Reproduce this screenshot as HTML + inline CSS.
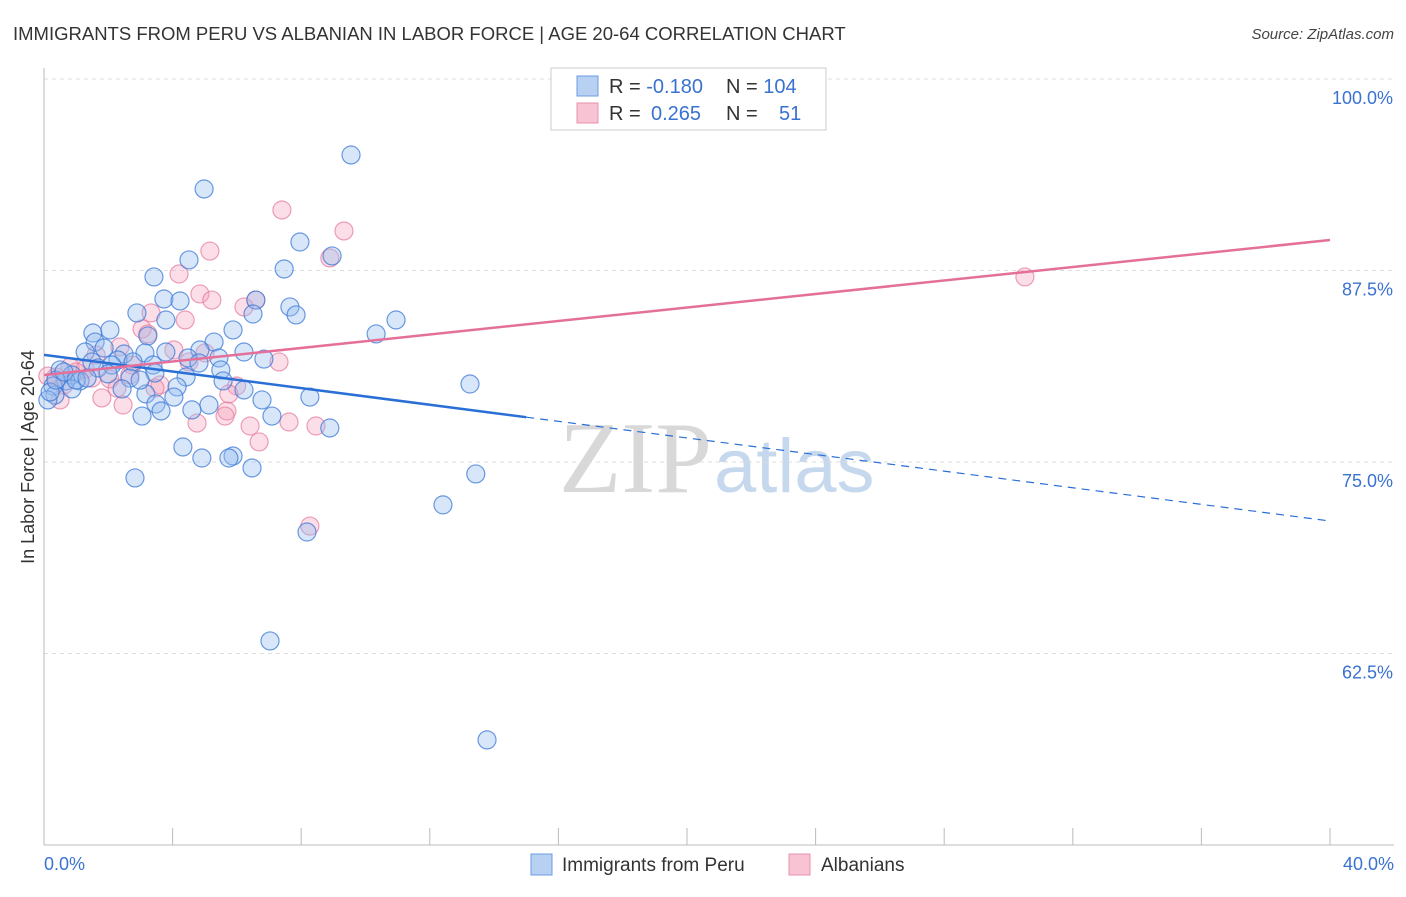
<!DOCTYPE html>
<html><head><meta charset="utf-8"><style>
body{margin:0;background:#fff;font-family:"Liberation Sans",sans-serif}
</style></head><body>
<svg width="1406" height="892" xmlns="http://www.w3.org/2000/svg" id="chart" font-family="Liberation Sans, sans-serif">
<text x="13" y="40" font-size="18.5" fill="#333">IMMIGRANTS FROM PERU VS ALBANIAN IN LABOR FORCE | AGE 20-64 CORRELATION CHART</text>
<text x="1394" y="39" font-size="15" fill="#444" font-style="italic" text-anchor="end">Source: ZipAtlas.com</text>
<text x="712" y="492" font-size="102" fill="#d8d8d8" text-anchor="end" font-family="Liberation Serif, serif">ZIP</text>
<text x="714" y="492" font-size="76" fill="#c6d8ee">atlas</text>
<g id="grid"></g><g id="axes"></g><g id="pts"></g><g id="lines"></g>
<text transform="translate(34,457) rotate(-90)" font-size="18" fill="#333" text-anchor="middle">In Labor Force | Age 20-64</text>
<g>
<rect x="551" y="68" width="275" height="62" fill="#fff" stroke="#ccc"/>
<rect x="577" y="76" width="21" height="20" fill="#b8d0f2" stroke="#6a9be0"/>
<rect x="577" y="103" width="21" height="20" fill="#f8c4d3" stroke="#e891ab"/>
<text x="609" y="93" font-size="20" fill="#333">R = <tspan fill="#3a72d0">-0.180</tspan><tspan x="726">N = </tspan><tspan fill="#3a72d0">104</tspan></text>
<text x="609" y="120" font-size="20" fill="#333">R = <tspan x="651" fill="#3a72d0">0.265</tspan><tspan x="726">N = </tspan><tspan x="779" fill="#3a72d0">51</tspan></text>
</g>
<g>
<rect x="531" y="854" width="21" height="21" fill="#b8d0f2" stroke="#6a9be0"/>
<text x="562" y="871" font-size="19" fill="#333">Immigrants from Peru</text>
<rect x="789" y="854" width="21" height="21" fill="#f8c4d3" stroke="#e891ab"/>
<text x="821" y="871" font-size="19" fill="#333">Albanians</text>
</g>
</svg>
<script>
const blueX=[9.55,4.98,7.96,8.96,4.51,7.47,3.42,3.73,4.23,6.59,7.65,2.89,6.50,7.84,3.79,10.95,1.52,2.05,5.88,10.33,3.23,1.59,5.29,1.87,6.22,1.28,2.49,3.14,3.79,4.85,2.30,1.49,4.48,5.44,6.84,2.77,3.39,4.82,0.50,0.87,1.12,0.68,2.67,3.45,4.42,5.50,5.57,13.25,0.28,0.34,0.87,2.43,3.17,4.14,6.22,4.04,3.48,5.13,6.78,8.27,3.05,3.64,4.60,7.09,8.89,4.32,4.91,5.88,5.75,6.47,13.43,2.83,12.41,8.18,7.03,13.78,0.12,0.19,0.37,0.62,1.68,2.11,1.99,1.0,1.34,2.99];
const blueY=[95.04,92.82,89.36,88.45,88.19,87.60,87.08,85.64,85.51,85.57,85.12,84.73,84.66,84.60,84.27,84.27,83.42,83.62,83.62,83.36,83.23,82.83,82.83,82.44,82.18,82.18,82.05,82.12,82.18,82.31,81.66,81.53,81.79,81.79,81.72,81.53,81.33,81.46,81.01,80.68,80.29,80.29,80.48,80.81,80.55,81.01,80.29,80.09,79.96,79.37,79.77,79.77,79.44,79.90,79.70,79.24,78.79,78.72,79.05,79.24,78.00,78.33,78.40,78.00,77.22,75.98,75.26,75.39,75.26,74.61,74.22,73.96,72.20,70.43,63.32,56.86,79.05,79.57,80.35,80.88,81.14,81.33,80.75,80.35,80.48,80.35];
const pinkX=[7.40,9.33,5.16,8.89,4.20,30.51,4.85,5.22,6.59,6.22,3.33,4.39,3.05,3.23,2.36,4.04,5.01,1.62,7.31,2.74,0.81,1.28,0.37,2.05,2.67,3.61,5.99,2.27,1.80,0.50,2.46,5.69,5.63,4.76,7.62,8.46,6.41,6.69,8.27,0.12,0.62,1.00,1.49,3.45,4.51,5.75];
const pinkY=[91.45,90.08,88.77,88.32,87.27,87.08,85.97,85.57,85.57,85.12,84.73,84.27,83.68,83.36,82.51,82.31,82.12,81.99,81.53,81.33,81.20,81.07,80.55,80.42,80.68,80.03,79.96,79.83,79.18,79.05,78.72,78.33,78.00,77.54,77.61,77.35,77.35,76.31,70.82,80.61,80.03,80.88,80.48,79.83,81.53,79.44];
const blueTrend=[81.99,71.15]; const blueSolidEnd=15.0;
const pinkTrend=[80.68,89.49];
const yTicks=[100,87.5,75,62.5];
const yTickLabels=["100.0%","87.5%","75.0%","62.5%"];
const xTickCount=11;
const NS="http://www.w3.org/2000/svg";
const sx=v=>44+v/40*1286, sy=v=>79+(100-v)/12.5*191.5;
function mk(t,a,p){const e=document.createElementNS(NS,t);for(const k in a)e.setAttribute(k,a[k]);p.appendChild(e);return e;}
const grid=document.getElementById('grid'),axes=document.getElementById('axes'),pts=document.getElementById('pts'),lines=document.getElementById('lines');
yTicks.forEach((v,i)=>{
 const l=mk('line',{x1:44,x2:1394,y1:sy(v),y2:sy(v),stroke:'#ddd','stroke-dasharray':'4,4'},grid);
 
 
 const t=mk('text',{x:1393,y:sy(v)+25,'font-size':18,fill:'#3a72d0','text-anchor':'end'},axes);
 t.textContent=yTickLabels[i];
 
 
});
let a=mk('line',{x1:44,x2:44,y1:68,y2:845,stroke:'#bbb'},axes);


a=mk('line',{x1:44,x2:1394,y1:845,y2:845,stroke:'#bbb'},axes);


for(let i=0;i<xTickCount;i++){const x=sx(i*4);
 const t=mk('line',{x1:x,x2:x,y1:828,y2:845,stroke:'#bbb'},axes);
 
 }
let t=mk('text',{x:44,y:870,'font-size':18,fill:'#3a72d0'},axes);t.textContent='0.0%';


t=mk('text',{x:1394,y:870,'font-size':18,fill:'#3a72d0','text-anchor':'end'},axes);t.textContent='40.0%';


pinkX.forEach((x,i)=>{const c=mk('circle',{cx:sx(x),cy:sy(pinkY[i]),r:9,fill:'rgba(244,160,185,0.35)',stroke:'rgba(230,120,155,0.7)','stroke-width':1.2},pts);
 
 });
blueX.forEach((x,i)=>{const c=mk('circle',{cx:sx(x),cy:sy(blueY[i]),r:9,fill:'rgba(150,190,240,0.38)',stroke:'rgba(60,120,215,0.75)','stroke-width':1.2},pts);
 
 });
const by=x=>blueTrend[0]+(blueTrend[1]-blueTrend[0])*x/40;
let l=mk('line',{x1:sx(0),y1:sy(by(0)),x2:sx(blueSolidEnd),y2:sy(by(blueSolidEnd)),stroke:'#2a6fd6','stroke-width':2.5},lines);


l=mk('line',{x1:sx(blueSolidEnd),y1:sy(by(blueSolidEnd)),x2:sx(40),y2:sy(by(40)),stroke:'#2a6fd6','stroke-width':1.2,'stroke-dasharray':'8,6'},lines);


l=mk('line',{x1:sx(0),y1:sy(pinkTrend[0]),x2:sx(40),y2:sy(pinkTrend[1]),stroke:'#e4709a','stroke-width':2.5},lines);


</script>
</body></html>
